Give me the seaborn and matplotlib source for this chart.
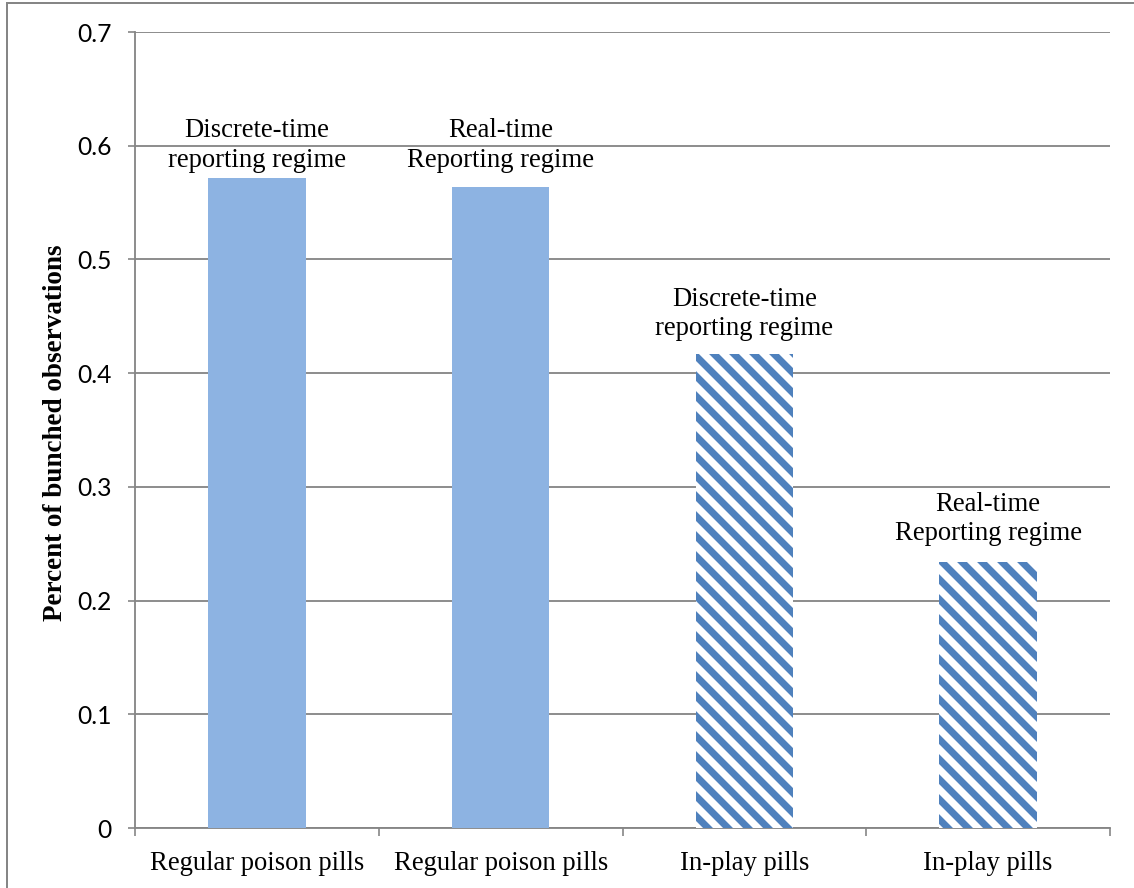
import matplotlib
matplotlib.use("Agg")
import matplotlib.pyplot as plt
from matplotlib.patches import Rectangle
import numpy as np
import pandas as pd
import seaborn as sns

# Chart data
categories = ["Regular poison pills", "Regular poison pills", "In-play pills", "In-play pills"]
regimes = ["Discrete-time\nreporting regime", "Real-time\nReporting regime",
           "Discrete-time\nreporting regime", "Real-time\nReporting regime"]
values = [0.572, 0.564, 0.417, 0.234]
y_ticks = [0.0, 0.1, 0.2, 0.3, 0.4, 0.5, 0.6, 0.7]
y_tick_labels = ["0", "0.1", "0.2", "0.3", "0.4", "0.5", "0.6", "0.7"]
y_title = "Percent of bunched observations"

# Styling
solid_color = "#8DB3E2"
stripe_color = "#4F81BD"
grid_color = "#868686"
label_pad_pt = [3.0, 8.4, 7.8, 9.6]

sns.set_theme(style="white")
plt.rcParams["hatch.linewidth"] = 4.2

DPI = 120
fig = plt.figure(figsize=(1134 / DPI, 888 / DPI), dpi=DPI)
ax = fig.add_axes([135 / 1134, 60 / 888, 975 / 1134, 796 / 888])

df = pd.DataFrame({"slot": np.arange(len(values)), "value": values})
sns.barplot(data=df, x="slot", y="value", hue="slot", legend=False,
            palette=["#ffffff"] * len(values), width=0.4, ax=ax, zorder=3)

# Regular pills are solid; in-play pills are striped
for i, patch in enumerate(ax.patches):
    if i < 2:
        patch.set_facecolor(solid_color)
        patch.set_edgecolor(solid_color)
        patch.set_linewidth(0)
    else:
        patch.set_facecolor("white")
        patch.set_edgecolor(stripe_color)
        patch.set_hatch("\\\\")
        patch.set_linewidth(0)

ax.set_xlim(-0.5, len(values) - 0.5)
ax.set_ylim(0, 0.7)
ax.set_axisbelow(True)

serif = ["Liberation Serif", "DejaVu Serif"]
sans = ["Lato", "DejaVu Sans"]

ax.set_yticks(y_ticks)
ax.set_yticklabels(y_tick_labels, fontfamily=sans, fontsize=14.8, color="black")
ax.set_xticks(np.arange(len(values)))
ax.set_xticklabels(categories, fontfamily=serif, fontsize=16.0, color="black")
ax.set_xticks(np.arange(len(values) + 1) - 0.5, minor=True)

ax.tick_params(axis="y", which="major", direction="out", length=4.5, width=1.0,
               color=grid_color, pad=9.5, left=True)
ax.tick_params(axis="x", which="major", length=0, pad=14)
ax.tick_params(axis="x", which="minor", direction="out", length=4.5, width=1.0,
               color=grid_color, bottom=True)

ax.yaxis.grid(True, color=grid_color, linewidth=1.1)
ax.xaxis.grid(False)
for side in ("top", "right"):
    ax.spines[side].set_visible(False)
for side in ("left", "bottom"):
    ax.spines[side].set_color(grid_color)
    ax.spines[side].set_linewidth(1.1)

ax.set_xlabel("")
ax.set_ylabel(y_title, fontfamily=serif, fontweight="bold", fontsize=16.3, color="black")
ax.yaxis.set_label_coords(-0.069, 0.497)

# Regime labels above each bar
for i, (patch, text) in enumerate(zip(ax.patches, regimes)):
    cx = patch.get_x() + patch.get_width() / 2
    ax.annotate(text, xy=(cx, patch.get_height()), xytext=(0, label_pad_pt[i]),
                textcoords="offset points", ha="center", va="bottom",
                fontfamily=serif, fontsize=16.0, linespacing=1.22, color="black")

# Outer chart frame
fig.patches.append(Rectangle((7 / 1134, -0.05), 1.2, 1 - 3 / 888 + 0.05,
                             transform=fig.transFigure, fill=False,
                             edgecolor=grid_color, linewidth=1.2))

fig.savefig("out.png", dpi=DPI, facecolor="white")
